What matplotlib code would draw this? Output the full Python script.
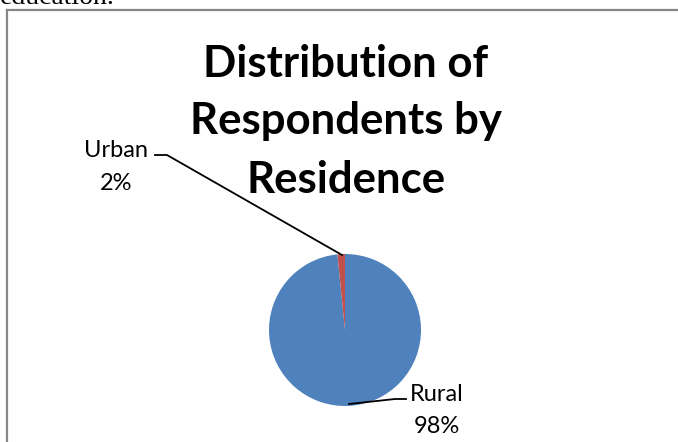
import matplotlib
matplotlib.use("Agg")
import matplotlib.pyplot as plt
from matplotlib.lines import Line2D

# data
categories = ["Rural", "Urban"]
shares = [98.4, 1.6]
colors = ["#4F81BD", "#C0504D"]
title_lines = ["Distribution of", "Respondents by", "Residence"]

W, H = 678, 442
fig = plt.figure(figsize=(W / 100, H / 100), dpi=100)


def fx(x):
    return x / W


def fy(y):
    return 1 - y / H


# cut-off text from the document above the chart
fig.text(fx(0), fy(4), "education.", family="Liberation Serif", fontsize=20,
         ha="left", va="baseline", color="black")

# chart border (left + top visible)
fig.add_artist(Line2D([fx(7), fx(7)], [fy(10), 0], color="#878787", lw=1.6,
                      transform=fig.transFigure))
fig.add_artist(Line2D([fx(7), fx(678)], [fy(10), fy(10)], color="#878787", lw=1.6,
                      transform=fig.transFigure))

# title
title_y = [77, 134, 193]
for t, y in zip(title_lines, title_y):
    fig.text(fx(346), fy(y), t, family="Lato", weight="bold", fontsize=31.5,
             ha="center", va="baseline")

# pie
cx, cy, r = 345, 330, 76
ax = fig.add_axes([fx(cx - r), fy(cy + r), 2 * r / W, 2 * r / H])
ax.pie(shares, colors=colors, startangle=90, counterclock=False,
       wedgeprops=dict(linewidth=0))
ax.set_xlim(-1, 1)
ax.set_ylim(-1, 1)
ax.set_aspect("auto")
ax.axis("off")

# labels with leader lines
lab = {
    "Urban": dict(x=116, y1=157, y2=190),
    "Rural": dict(x=437, y1=401, y2=433),
}
for name, v in zip(categories, shares):
    p = lab[name]
    fig.text(fx(p["x"]), fy(p["y1"]), name, family="Lato", fontsize=17,
             ha="center", va="baseline")
    fig.text(fx(p["x"]), fy(p["y2"]), f"{round(v)}%", family="Lato", fontsize=17,
             ha="center", va="baseline")

fig.add_artist(Line2D([fx(155), fx(167), fx(342)], [fy(155), fy(155), fy(255)],
                      color="black", lw=1.3, transform=fig.transFigure))
fig.add_artist(Line2D([fx(349), fx(395), fx(406)], [fy(404), fy(399), fy(399)],
                      color="black", lw=1.3, transform=fig.transFigure))

fig.savefig("out.png", dpi=100)
